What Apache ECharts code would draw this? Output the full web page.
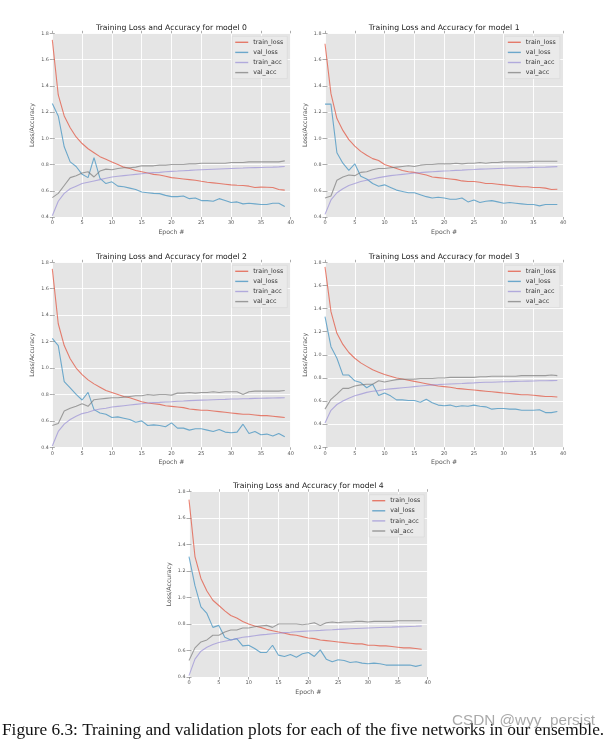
<!DOCTYPE html>
<html>
<head>
<meta charset="utf-8">
<script src="https://cdn.jsdelivr.net/npm/echarts@6/dist/echarts.min.js"></script>
<style>
html,body{margin:0;padding:0;background:#fff;}
#chart{width:614px;height:743px;}
</style>
</head>
<body>
<div id="chart"></div>
<script>
const epochs = [0,1,2,3,4,5,6,7,8,9,10,11,12,13,14,15,16,17,18,19,20,21,22,23,24,25,26,27,28,29,30,31,32,33,34,35,36,37,38,39];
const seriesNames = ['train_loss','val_loss','train_acc','val_acc'];
const seriesColors = ['#E24A33','#348ABD','#988ED5','#777777'];
const titles = [
  'Training Loss and Accuracy for model 0',
  'Training Loss and Accuracy for model 1',
  'Training Loss and Accuracy for model 2',
  'Training Loss and Accuracy for model 3',
  'Training Loss and Accuracy for model 4'
];
const xRange = [0, 40, 5];
const yRanges = [[0.4,1.8],[0.4,1.8],[0.4,1.8],[0.2,1.8],[0.4,1.8]];
const yStep = 0.2;
const xName = 'Epoch #';
const yName = 'Loss/Accuracy';
const caption = 'Figure 6.3: Training and validation plots for each of the five networks in our ensemble.';
const watermark = 'CSDN @wyy_persist';

// model 0
const trainLoss0 = [1.75,1.33,1.17,1.08,1.01,0.96,0.92,0.89,0.86,0.84,0.82,0.80,0.78,0.77,0.755,0.745,0.735,0.725,0.72,0.71,0.70,0.695,0.69,0.685,0.68,0.672,0.665,0.66,0.655,0.65,0.645,0.642,0.64,0.635,0.625,0.628,0.627,0.625,0.61,0.605];
const valLoss0 = [1.265,1.17,0.935,0.82,0.785,0.725,0.70,0.852,0.695,0.655,0.668,0.635,0.63,0.62,0.61,0.59,0.585,0.58,0.578,0.565,0.555,0.555,0.56,0.54,0.545,0.525,0.525,0.52,0.54,0.525,0.51,0.515,0.50,0.505,0.50,0.495,0.495,0.505,0.505,0.48];
const trainAcc0 = [0.41,0.52,0.58,0.615,0.635,0.655,0.665,0.675,0.685,0.695,0.705,0.71,0.715,0.72,0.725,0.73,0.735,0.738,0.74,0.745,0.748,0.75,0.753,0.755,0.758,0.76,0.762,0.764,0.766,0.768,0.77,0.772,0.773,0.775,0.776,0.777,0.779,0.78,0.782,0.785];
const valAcc0 = [0.548,0.58,0.64,0.70,0.715,0.735,0.745,0.705,0.75,0.765,0.76,0.77,0.775,0.775,0.78,0.79,0.79,0.79,0.795,0.795,0.80,0.80,0.80,0.805,0.805,0.81,0.81,0.81,0.81,0.81,0.815,0.815,0.815,0.82,0.82,0.82,0.82,0.82,0.82,0.828];
// model 1
const trainLoss1 = [1.72,1.34,1.15,1.06,0.99,0.94,0.90,0.87,0.845,0.83,0.80,0.785,0.77,0.755,0.745,0.74,0.73,0.72,0.705,0.70,0.695,0.69,0.685,0.675,0.67,0.67,0.665,0.655,0.655,0.65,0.645,0.64,0.635,0.63,0.63,0.625,0.625,0.62,0.61,0.612];
const valLoss1 = [1.26,1.26,0.89,0.81,0.755,0.805,0.71,0.69,0.655,0.635,0.645,0.625,0.605,0.595,0.585,0.585,0.57,0.555,0.545,0.55,0.545,0.535,0.535,0.545,0.515,0.53,0.51,0.52,0.525,0.515,0.505,0.51,0.505,0.50,0.495,0.495,0.485,0.495,0.495,0.495];
const trainAcc1 = [0.42,0.53,0.585,0.615,0.64,0.655,0.67,0.68,0.69,0.70,0.708,0.715,0.72,0.725,0.73,0.735,0.738,0.742,0.745,0.748,0.75,0.752,0.755,0.757,0.76,0.762,0.765,0.766,0.768,0.77,0.772,0.773,0.774,0.775,0.776,0.778,0.779,0.78,0.782,0.784];
const valAcc1 = [0.545,0.56,0.68,0.705,0.72,0.715,0.74,0.745,0.76,0.77,0.77,0.775,0.78,0.785,0.79,0.785,0.795,0.80,0.80,0.805,0.805,0.805,0.81,0.805,0.81,0.81,0.815,0.81,0.815,0.815,0.82,0.82,0.82,0.82,0.82,0.825,0.825,0.825,0.825,0.825];
// model 2
const trainLoss2 = [1.75,1.335,1.17,1.07,1.00,0.95,0.91,0.88,0.855,0.83,0.815,0.80,0.785,0.775,0.76,0.745,0.735,0.73,0.725,0.715,0.71,0.705,0.70,0.69,0.685,0.68,0.68,0.675,0.67,0.665,0.66,0.655,0.65,0.65,0.645,0.64,0.64,0.635,0.63,0.625];
const valLoss2 = [1.225,1.17,0.897,0.85,0.80,0.758,0.816,0.685,0.66,0.65,0.625,0.63,0.62,0.61,0.59,0.60,0.565,0.57,0.565,0.555,0.585,0.545,0.545,0.53,0.54,0.54,0.53,0.52,0.535,0.515,0.51,0.515,0.575,0.505,0.52,0.495,0.50,0.485,0.505,0.48];
const trainAcc2 = [0.41,0.52,0.575,0.61,0.635,0.655,0.665,0.68,0.69,0.695,0.705,0.71,0.715,0.72,0.725,0.73,0.735,0.738,0.74,0.743,0.745,0.748,0.75,0.753,0.755,0.757,0.758,0.76,0.762,0.763,0.765,0.766,0.767,0.768,0.77,0.771,0.772,0.773,0.774,0.775];
const valAcc2 = [0.565,0.58,0.675,0.695,0.71,0.73,0.71,0.76,0.765,0.77,0.775,0.775,0.78,0.785,0.79,0.79,0.80,0.795,0.80,0.80,0.795,0.81,0.81,0.815,0.81,0.815,0.815,0.82,0.815,0.82,0.82,0.82,0.80,0.82,0.825,0.825,0.825,0.825,0.825,0.83];
// model 3
const trainLoss3 = [1.76,1.373,1.186,1.09,1.02,0.97,0.93,0.90,0.87,0.85,0.83,0.815,0.80,0.79,0.78,0.77,0.76,0.75,0.74,0.73,0.725,0.72,0.71,0.705,0.70,0.695,0.69,0.685,0.68,0.675,0.67,0.665,0.66,0.655,0.655,0.65,0.645,0.64,0.64,0.635];
const valLoss3 = [1.33,1.07,0.97,0.826,0.825,0.775,0.76,0.715,0.745,0.647,0.67,0.645,0.61,0.61,0.605,0.605,0.59,0.615,0.585,0.565,0.56,0.565,0.55,0.56,0.555,0.565,0.555,0.55,0.53,0.535,0.535,0.53,0.53,0.52,0.52,0.52,0.525,0.50,0.50,0.51];
const trainAcc3 = [0.41,0.52,0.57,0.60,0.625,0.645,0.66,0.675,0.685,0.69,0.70,0.705,0.71,0.715,0.72,0.725,0.73,0.735,0.74,0.742,0.745,0.748,0.75,0.752,0.755,0.757,0.76,0.762,0.763,0.765,0.767,0.768,0.77,0.771,0.772,0.773,0.775,0.776,0.777,0.778];
const valAcc3 = [0.53,0.615,0.66,0.71,0.71,0.73,0.74,0.745,0.745,0.775,0.765,0.775,0.785,0.79,0.79,0.79,0.795,0.795,0.795,0.80,0.80,0.805,0.805,0.805,0.805,0.805,0.81,0.81,0.815,0.815,0.815,0.815,0.815,0.82,0.82,0.82,0.82,0.82,0.825,0.82];
// model 4
const trainLoss4 = [1.74,1.31,1.145,1.05,0.98,0.94,0.90,0.865,0.845,0.82,0.80,0.785,0.775,0.76,0.75,0.74,0.73,0.72,0.715,0.705,0.695,0.69,0.68,0.675,0.67,0.665,0.66,0.655,0.65,0.65,0.64,0.64,0.635,0.635,0.63,0.625,0.62,0.62,0.615,0.61];
const valLoss4 = [1.309,1.09,0.93,0.88,0.775,0.79,0.70,0.68,0.69,0.635,0.64,0.615,0.585,0.585,0.64,0.565,0.555,0.57,0.55,0.575,0.585,0.555,0.605,0.535,0.515,0.53,0.525,0.51,0.515,0.505,0.50,0.505,0.50,0.49,0.49,0.49,0.49,0.49,0.48,0.49];
const trainAcc4 = [0.41,0.535,0.595,0.625,0.645,0.66,0.67,0.68,0.69,0.70,0.705,0.712,0.718,0.722,0.727,0.73,0.735,0.738,0.742,0.745,0.748,0.75,0.752,0.755,0.757,0.76,0.762,0.764,0.766,0.768,0.77,0.772,0.774,0.776,0.777,0.779,0.78,0.782,0.783,0.785];
const valAcc4 = [0.525,0.62,0.665,0.68,0.715,0.715,0.74,0.755,0.755,0.77,0.77,0.78,0.785,0.79,0.775,0.80,0.80,0.80,0.80,0.795,0.80,0.81,0.79,0.81,0.815,0.81,0.815,0.815,0.82,0.82,0.815,0.82,0.82,0.82,0.82,0.825,0.825,0.825,0.825,0.825];

const models = [
  [trainLoss0, valLoss0, trainAcc0, valAcc0],
  [trainLoss1, valLoss1, trainAcc1, valAcc1],
  [trainLoss2, valLoss2, trainAcc2, valAcc2],
  [trainLoss3, valLoss3, trainAcc3, valAcc3],
  [trainLoss4, valLoss4, trainAcc4, valAcc4]
];

// layout (pixels)
const W = 614, H = 743;
const gridBoxes = [
  {left:52.3, top:33.3, width:238.4, height:183.7},
  {left:325,  top:33.3, width:238.3, height:183.7},
  {left:52.3, top:262.3, width:238.4, height:185},
  {left:325,  top:262.3, width:238.3, height:185},
  {left:189,  top:491.7, width:238.7, height:185.3}
];

const FONT = '"DejaVu Sans", sans-serif';
const grid = [], xAxis = [], yAxis = [], title = [], legend = [], series = [];

gridBoxes.forEach((g, i) => {
  grid.push({left:g.left, top:g.top, width:g.width, height:g.height, show:true,
             backgroundColor:'#E5E5E5', borderWidth:0, containLabel:false});
  title.push({text:titles[i], left:g.left + g.width/2, top:g.top - 5.2,
              textAlign:'center', textVerticalAlign:'middle', padding:0,
              textStyle:{fontFamily:FONT, fontSize:7.7, fontWeight:'normal', color:'#222'}});
  legend.push({orient:'vertical', right: W - (g.left + g.width) + 3.5, top: g.top + 3,
               padding:[2,4,2,3], itemWidth:13, itemHeight:1.4, itemGap:2.1, icon:'rect',
               backgroundColor:'#EAEAEA', borderColor:'#D6D6D6', borderWidth:0.6,
               selectedMode:false, data:seriesNames,
               textStyle:{fontFamily:FONT, fontSize:6.3, lineHeight:8, color:'#333'}});
  const [ymin, ymax] = yRanges[i];
  xAxis.push({type:'value', gridIndex:i, min:xRange[0], max:xRange[1], interval:xRange[2],
              name:xName, nameLocation:'middle', nameGap:12.5,
              nameTextStyle:{fontFamily:FONT, fontSize:6.2, color:'#555'},
              axisLine:{show:false},
              axisTick:{show:true, length:2.5, lineStyle:{color:'#888', width:0.7}},
              axisLabel:{fontFamily:FONT, fontSize:5, color:'#555', margin:3.5},
              splitLine:{show:true, lineStyle:{color:'#FFFFFF', width:0.9}}});
  yAxis.push({type:'value', gridIndex:i, min:ymin, max:ymax, interval:yStep,
              name:yName, nameLocation:'middle', nameGap:16.5, nameRotate:90,
              nameTextStyle:{fontFamily:FONT, fontSize:6.2, color:'#555'},
              axisLine:{show:false},
              axisTick:{show:true, length:2.5, lineStyle:{color:'#888', width:0.7}},
              axisLabel:{fontFamily:FONT, fontSize:4.8, color:'#555', margin:3.5,
                         formatter:v => v.toFixed(1)},
              splitLine:{show:true, lineStyle:{color:'#FFFFFF', width:0.9}}});
  models[i].forEach((arr, j) => {
    series.push({type:'line', name:seriesNames[j], xAxisIndex:i, yAxisIndex:i,
                 data: epochs.map((e, k) => [e, arr[k]]),
                 symbol:'none', showSymbol:false, silent:true,
                 itemStyle:{color:seriesColors[j], opacity:0.7},
                 lineStyle:{color:seriesColors[j], width:1.1, opacity:0.68}});
  });
});
// mirrored tick-only axes on top and right
gridBoxes.forEach((g, i) => {
  const [ymin, ymax] = yRanges[i];
  xAxis.push({type:'value', gridIndex:i, position:'top', min:xRange[0], max:xRange[1], interval:xRange[2],
              axisLine:{show:false}, axisLabel:{show:false}, splitLine:{show:false},
              axisTick:{show:true, length:2.5, lineStyle:{color:'#888', width:0.7}}});
  yAxis.push({type:'value', gridIndex:i, position:'right', min:ymin, max:ymax, interval:yStep,
              axisLine:{show:false}, axisLabel:{show:false}, splitLine:{show:false},
              axisTick:{show:true, length:2.5, lineStyle:{color:'#888', width:0.7}}});
});

const chart = echarts.init(document.getElementById('chart'), null, {renderer:'canvas', width:W, height:H});
chart.setOption({
  backgroundColor:'#FFFFFF',
  animation:false,
  title, legend, grid, xAxis, yAxis, series,
  graphic:[
    {type:'text', left:2, top:721.5, z:10,
     style:{text:caption, font:'17.3px "Liberation Serif", serif', fill:'#111'}},
    {type:'text', left:452, top:713.5, z:11,
     style:{text:watermark, font:'15.3px "Liberation Sans", sans-serif', fill:'rgba(140,140,140,0.75)'}}
  ]
});
</script>
</body>
</html>
